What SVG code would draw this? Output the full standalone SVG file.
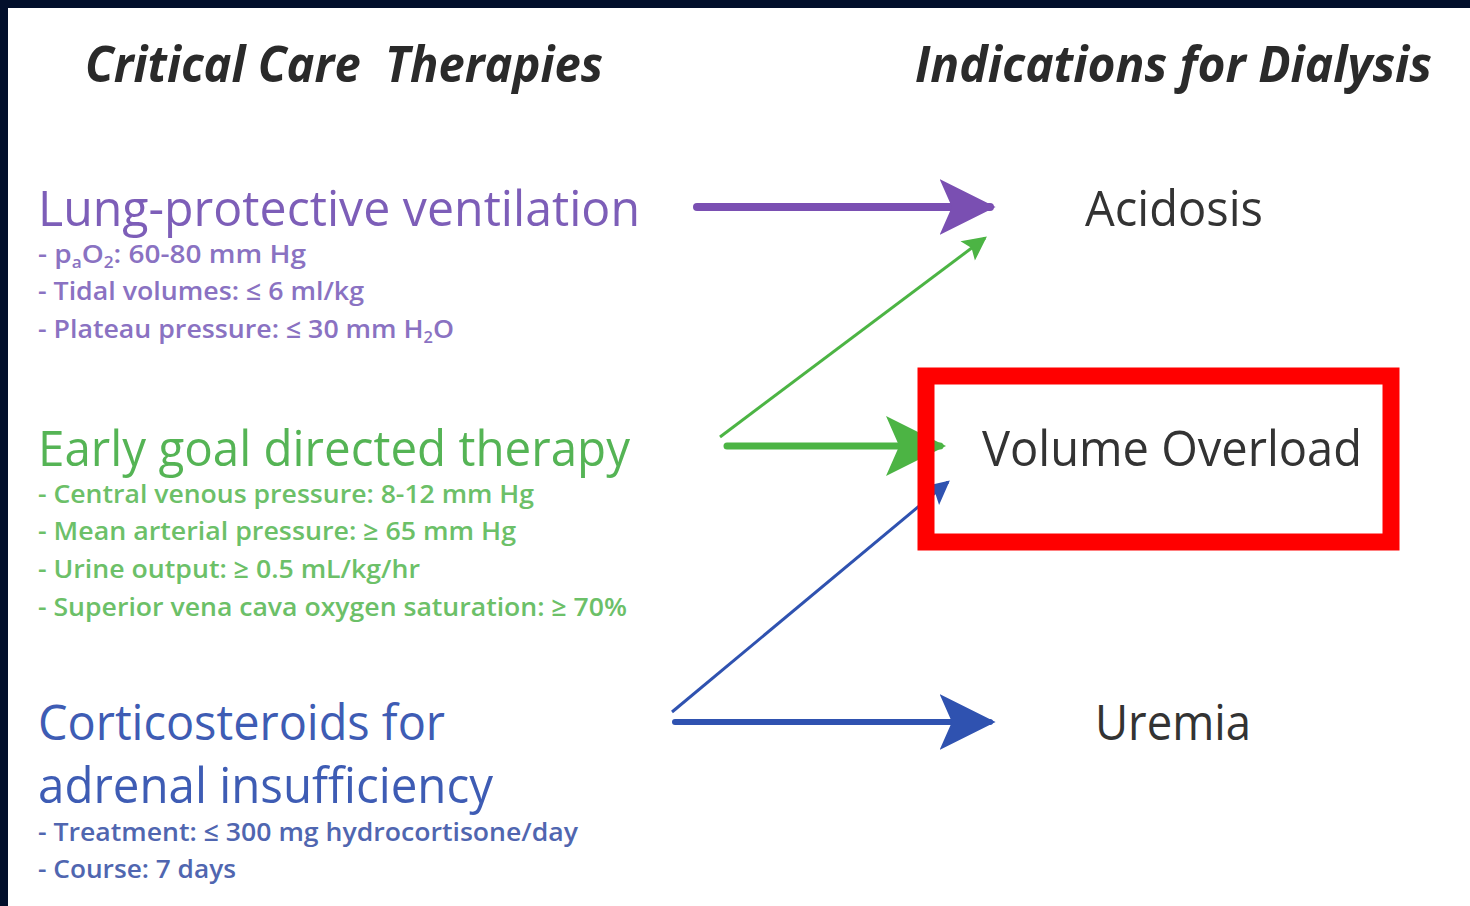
<svg xmlns="http://www.w3.org/2000/svg" width="1470" height="906" viewBox="0 0 1470 906">
  <style>
    .hdr { font-family: "Open Sans", "Noto Sans", sans-serif; font-weight: 700; font-style: italic; font-size: 50px; fill: #2a2a2a; }
    .big { font-family: "Open Sans", "Noto Sans", sans-serif; font-size: 49px; }
    .sub { font-family: "Open Sans", "Noto Sans", sans-serif; font-weight: 600; font-size: 26px; }
    .ind { font-family: "Open Sans", "Noto Sans", sans-serif; font-size: 49px; fill: #333333; }
    .purple { fill: #7d5eb8; }
    .purple-s { fill: #8a72c2; }
    .green { fill: #55b455; }
    .green-s { fill: #6cc068; }
    .blue { fill: #3e5cb4; }
    .blue-s { fill: #5066b0; }
  </style>
  <defs>
    <marker id="headPurple" viewBox="0 0 10 10" refX="9" refY="5" markerUnits="userSpaceOnUse" markerWidth="56" markerHeight="60" orient="auto">
      <path d="M0,0 L10,5 L0,10 L2.2,5 Z" fill="#7a4fb2"/>
    </marker>
    <marker id="headGreen" viewBox="0 0 10 10" refX="9" refY="5" markerUnits="userSpaceOnUse" markerWidth="60" markerHeight="60" orient="auto">
      <path d="M0,0 L10,5 L0,10 L2.2,5 Z" fill="#4cb444"/>
    </marker>
    <marker id="headBlue" viewBox="0 0 10 10" refX="9" refY="5" markerUnits="userSpaceOnUse" markerWidth="56" markerHeight="60" orient="auto">
      <path d="M0,0 L10,5 L0,10 L2.2,5 Z" fill="#2f52b0"/>
    </marker>
    <marker id="smallGreen" viewBox="0 0 10 10" refX="9" refY="5" markerUnits="userSpaceOnUse" markerWidth="26" markerHeight="24" orient="auto">
      <path d="M0,0 L10,5 L0,10 L2,5 Z" fill="#4cb444"/>
    </marker>
    <marker id="smallBlue" viewBox="0 0 10 10" refX="9" refY="5" markerUnits="userSpaceOnUse" markerWidth="26" markerHeight="24" orient="auto">
      <path d="M0,0 L10,5 L0,10 L2,5 Z" fill="#2f52b0"/>
    </marker>
  </defs>

  <!-- page and dark frame -->
  <rect x="0" y="0" width="1470" height="906" fill="#ffffff"/>
  <rect x="0" y="0" width="1470" height="8" fill="#020f2b"/>
  <rect x="0" y="0" width="8" height="906" fill="#020f2b"/>

  <!-- column headings -->
  <text class="hdr" x="85" y="82" textLength="518" lengthAdjust="spacingAndGlyphs" xml:space="preserve">Critical Care  Therapies</text>
  <text class="hdr" x="915" y="82" textLength="517" lengthAdjust="spacingAndGlyphs">Indications for Dialysis</text>

  <!-- therapy: lung-protective ventilation -->
  <g id="lung">
    <text class="big purple" x="38" y="226" textLength="602" lengthAdjust="spacingAndGlyphs">Lung-protective ventilation</text>
    <text class="sub purple-s" x="38" y="263" textLength="268" lengthAdjust="spacingAndGlyphs">- p<tspan font-size="16" dy="5">a</tspan><tspan dy="-5">O</tspan><tspan font-size="16" dy="5">2</tspan><tspan dy="-5">: 60-80 mm Hg</tspan></text>
    <text class="sub purple-s" x="38" y="300" textLength="326" lengthAdjust="spacingAndGlyphs">- Tidal volumes: ≤ 6 ml/kg</text>
    <text class="sub purple-s" x="38" y="338" textLength="416" lengthAdjust="spacingAndGlyphs">- Plateau pressure: ≤ 30 mm H<tspan font-size="16" dy="5">2</tspan><tspan dy="-5">O</tspan></text>
  </g>

  <!-- therapy: early goal directed therapy -->
  <g id="egdt">
    <text class="big green" x="38" y="466" textLength="592" lengthAdjust="spacingAndGlyphs">Early goal directed therapy</text>
    <text class="sub green-s" x="38" y="503" textLength="496" lengthAdjust="spacingAndGlyphs">- Central venous pressure: 8-12 mm Hg</text>
    <text class="sub green-s" x="38" y="540" textLength="478" lengthAdjust="spacingAndGlyphs">- Mean arterial pressure:  ≥ 65 mm Hg</text>
    <text class="sub green-s" x="38" y="578" textLength="382" lengthAdjust="spacingAndGlyphs">- Urine output: ≥ 0.5 mL/kg/hr</text>
    <text class="sub green-s" x="38" y="616" textLength="589" lengthAdjust="spacingAndGlyphs">- Superior vena cava oxygen saturation: ≥ 70%</text>
  </g>

  <!-- therapy: corticosteroids -->
  <g id="steroids">
    <text class="big blue" x="38" y="740" textLength="407" lengthAdjust="spacingAndGlyphs">Corticosteroids for</text>
    <text class="big blue" x="38" y="803" textLength="455" lengthAdjust="spacingAndGlyphs">adrenal insufficiency</text>
    <text class="sub blue-s" x="38" y="841" textLength="540" lengthAdjust="spacingAndGlyphs">- Treatment: ≤ 300 mg hydrocortisone/day</text>
    <text class="sub blue-s" x="38" y="878" textLength="198" lengthAdjust="spacingAndGlyphs">- Course: 7 days</text>
  </g>

  <!-- indications -->
  <g id="acidosis">
    <text class="ind" x="1085" y="226" textLength="178" lengthAdjust="spacingAndGlyphs">Acidosis</text>
  </g>
  <g id="uremia">
    <text class="ind" x="1095" y="740" textLength="156" lengthAdjust="spacingAndGlyphs">Uremia</text>
  </g>

  <!-- connectors -->
  <g id="connectors" fill="none">
    <line x1="697" y1="207" x2="990" y2="207" stroke="#7a4fb2" stroke-width="8" stroke-linecap="round" marker-end="url(#headPurple)"/>
    <line x1="720" y1="437" x2="985" y2="238" stroke="#4cb444" stroke-width="3" marker-end="url(#smallGreen)"/>
    <line x1="727" y1="446" x2="940" y2="446" stroke="#4cb444" stroke-width="7" stroke-linecap="round" marker-end="url(#headGreen)"/>
    <line x1="672" y1="712" x2="948" y2="482" stroke="#2f52b0" stroke-width="3" marker-end="url(#smallBlue)"/>
    <line x1="675" y1="722" x2="990" y2="722" stroke="#2f52b0" stroke-width="6" stroke-linecap="round" marker-end="url(#headBlue)"/>
  </g>

  <!-- highlighted indication -->
  <g id="volume-overload">
    <rect x="926" y="376" width="465" height="166" fill="none" stroke="#ff0000" stroke-width="17"/>
    <text class="ind" x="982" y="466" textLength="380" lengthAdjust="spacingAndGlyphs">Volume Overload</text>
  </g>
</svg>
